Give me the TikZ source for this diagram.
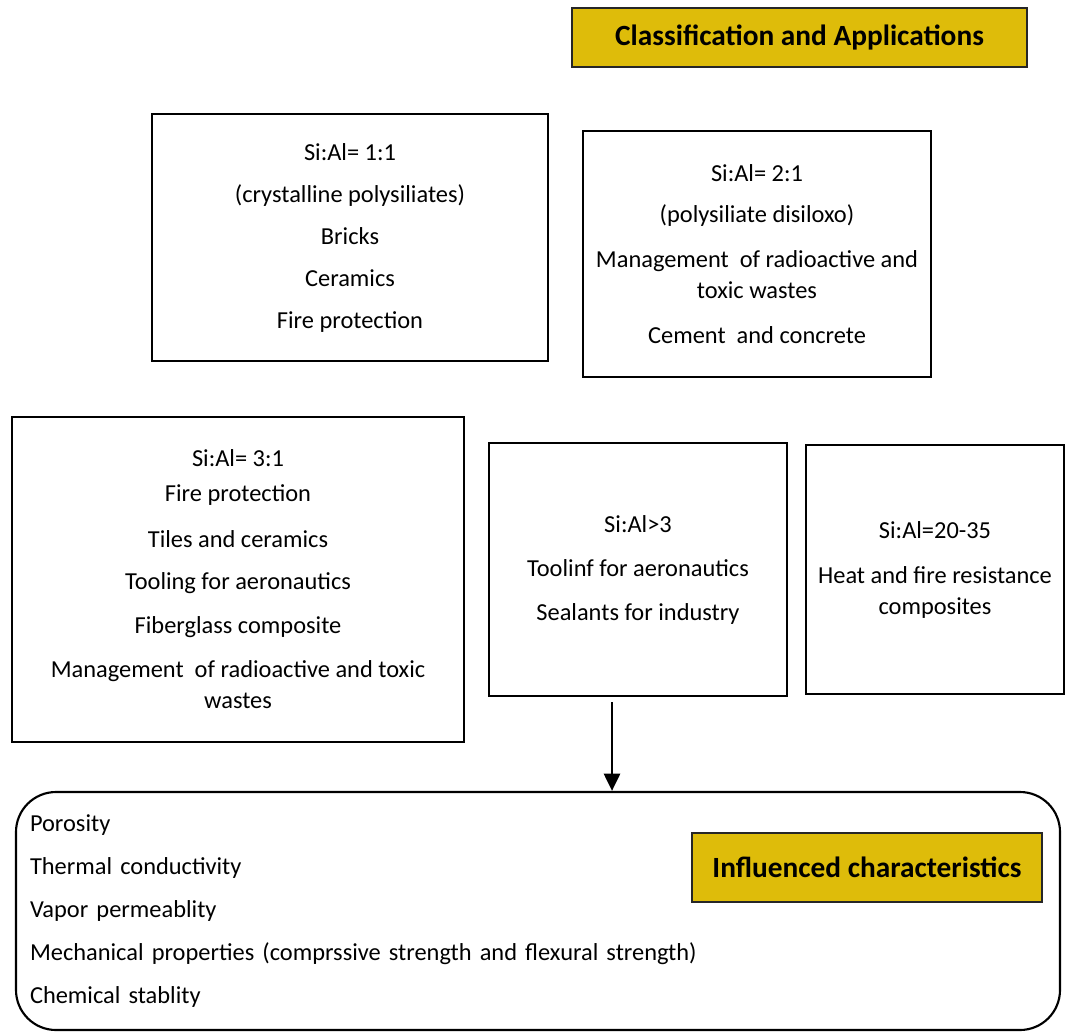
\documentclass[tikz,border=0pt]{standalone}
\usepackage{fontspec}
\setmainfont{Carlito}
\usetikzlibrary{arrows.meta,calc}
\definecolor{gold}{RGB}{222,188,10}
\begin{document}
\begin{tikzpicture}[x=0.75pt,y=-0.75pt,
 box/.style={draw=black,line width=1.6pt,align=center,inner sep=0pt,font=\fontsize{18.3}{23.25}\selectfont},
 tag/.style={draw=black!85,line width=1.6pt,fill=gold,inner sep=0pt,font=\bfseries\fontsize{22}{26}\selectfont},
 arr/.style={line width=2.2pt,-{Triangle[length=13pt,width=12pt]}}]
\useasboundingbox (0,0) rectangle (1067,1035);

\node[tag,minimum width=341.25pt,minimum height=44.25pt] (title) at (799.5,37.5) {Classification and Applications};

\node[box,minimum width=297pt,minimum height=185.25pt] (A) at (350,237.5)
 {Si:Al= 1:1\\[8.25pt] (crystalline polysiliates)\\[8.25pt] Bricks\\[8.25pt] Ceramics\\[8.25pt] Fire protection};

\node[box,minimum width=261pt,minimum height=184.5pt] (B) at (757,254)
 {Si:Al= 2:1\\[7.5pt] (polysiliate disiloxo)\\[10.5pt] Management\ \ of radioactive and\\ toxic wastes\\[10.5pt] Cement\ \ and concrete};

\node[box,minimum width=339pt,minimum height=243.75pt] (C) at (238,579.5)
 {Si:Al= 3:1\\[3pt] Fire protection\\[11.25pt] Tiles and ceramics\\[8.25pt] Tooling for aeronautics\\[9.75pt] Fiberglass composite\\[9.75pt] Management\ \ of radioactive and toxic\\ wastes};

\node[box,minimum width=223.5pt,minimum height=189.75pt] (D) at (638,569.5)
 {Si:Al{\textgreater}3\\[9.75pt] Toolinf for aeronautics\\[9.75pt] Sealants for industry};

\node[box,minimum width=193.5pt,minimum height=186.75pt] (E) at (935,569.5)
 {Si:Al=20-35\\[10.5pt] Heat and fire resistance\\ composites};

\node[box,rounded corners=30pt,align=left,text width=762pt,minimum height=178.5pt,inner xsep=10.5pt] (F) at (538,911)
 {Porosity\\[9pt] Thermal conductivity\\[9pt] Vapor permeablity\\[9pt] Mechanical properties (comprssive strength and flexural strength)\\[9pt] Chemical stablity};

\node[tag,font=\bfseries\fontsize{22}{26}\selectfont,minimum width=262.5pt,minimum height=51.75pt] (infl) at (867,867.5) {Influenced characteristics};

\coordinate (ax) at (612,0);
\draw[arr] ([yshift=-4pt]D.south -| ax) -- (F.north -| ax);
\end{tikzpicture}
\end{document}
